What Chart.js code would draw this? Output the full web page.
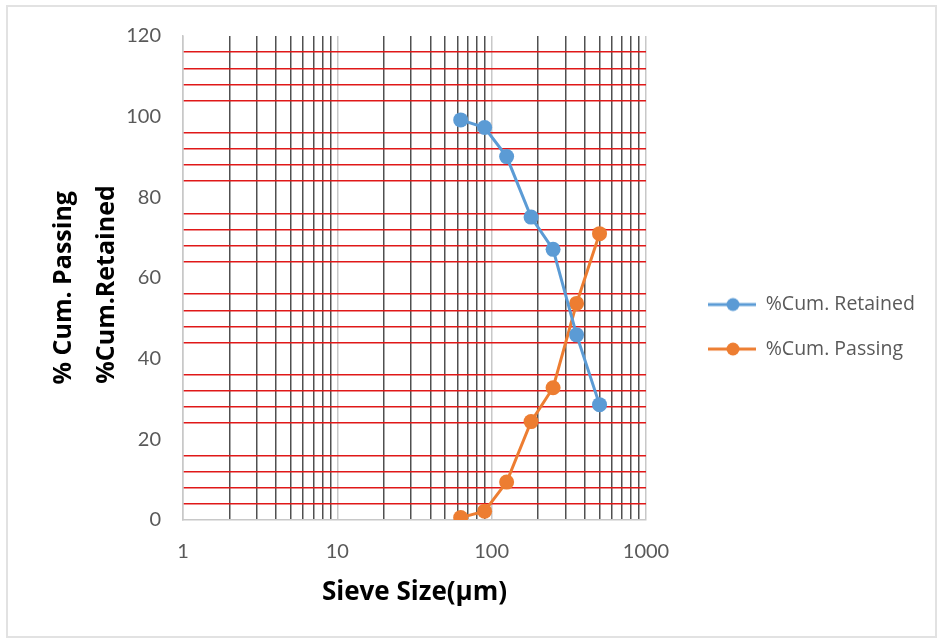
<!DOCTYPE html>
<html>
<head>
<title>Sieve Analysis</title>
<script src="https://cdn.jsdelivr.net/npm/chart.js"></script>
<style>
    body { margin: 0; background: #fff; }
    #wrap { position: relative; width: 941px; height: 640px; }
    #frame { position: absolute; left: 6px; top: 5px; width: 927px; height: 629px; border: 2px solid #e2e2e2; pointer-events: none; }
</style>
</head>
<body>
<div id="wrap">
    <canvas id="myChart" width="941" height="640"></canvas>
    <div id="frame"></div>
</div>
<script>
var sieveSizes = [63, 90, 125, 180, 250, 355, 500];
var cumRetained = [99.2, 97.3, 90.1, 75.1, 67.1, 45.9, 28.6];
var cumPassing = [0.6, 2.2, 9.4, 24.4, 32.8, 53.7, 71.0];

var xGridValues = [1, 2, 3, 4, 5, 6, 7, 8, 9, 10, 20, 30, 40, 50, 60, 70, 80, 90,
    100, 200, 300, 400, 500, 600, 700, 800, 900, 1000];
var xTickLabels = [1, 10, 100, 1000];
var yGridValues = [0, 4, 8, 12, 16, 20, 24, 28, 32, 36, 40, 44, 48, 52, 56, 60,
    64, 68, 72, 76, 80, 84, 88, 92, 96, 100, 104, 108, 112, 116, 120];
var yTickLabels = [0, 20, 40, 60, 80, 100, 120];

var blue = '#5B9BD5';
var orange = '#ED7D31';
var legendWidth = 248;

// little line + dot picture for the legend, like the excel one
function legendMarker(color) {
    var c = document.createElement('canvas');
    c.width = 48; c.height = 16;
    var g = c.getContext('2d');
    g.strokeStyle = color;
    g.lineWidth = 3;
    g.beginPath(); g.moveTo(0, 8); g.lineTo(48, 8); g.stroke();
    g.fillStyle = color;
    g.beginPath(); g.arc(25, 8, 6.5, 0, Math.PI * 2); g.fill();
    return c;
}
var markers = [legendMarker(blue), legendMarker(orange)];

function toPoints(ys) {
    return sieveSizes.map(function (s, i) { return {x: s, y: ys[i]}; });
}

// the legend is capped to a third of half the width otherwise, so force it
var legendWidthPlugin = {
    id: 'legendWidth',
    beforeLayout: function (chart) {
        var lg = chart.legend;
        if (lg && !lg._fixedWidth) {
            var fit = lg.fit;
            lg.fit = function () { fit.call(this); this.width = legendWidth; };
            lg._fixedWidth = true;
        }
    }
};

Chart.defaults.font.family = 'Lato';
Chart.defaults.color = '#595959';

var chart = new Chart(document.getElementById('myChart'), {
    type: 'line',
    data: {
        datasets: [{
            label: '%Cum. Retained',
            data: toPoints(cumRetained),
            borderColor: blue,
            backgroundColor: blue,
            borderWidth: 3,
            pointRadius: 7.5,
            pointBorderWidth: 0,
            tension: 0
        }, {
            label: '%Cum. Passing',
            data: toPoints(cumPassing),
            borderColor: orange,
            backgroundColor: orange,
            borderWidth: 3,
            pointRadius: 7.5,
            pointBorderWidth: 0,
            tension: 0
        }]
    },
    plugins: [legendWidthPlugin],
    options: {
        responsive: false,
        animation: false,
        layout: {
            padding: {left: 30, top: 36, right: 10, bottom: 32}
        },
        scales: {
            x: {
                type: 'logarithmic',
                min: 1,
                max: 1000,
                afterBuildTicks: function (scale) {
                    scale.ticks = xGridValues.map(function (v) { return {value: v}; });
                },
                afterFit: function (scale) { scale.height = 88; },
                ticks: {
                    autoSkip: false,
                    maxRotation: 0,
                    padding: 20,
                    font: {size: 20},
                    callback: function (v) {
                        return xTickLabels.indexOf(v) >= 0 ? String(v) : '';
                    }
                },
                grid: {
                    drawTicks: false,
                    lineWidth: 1.5,
                    color: function (ctx) {
                        var v = ctx.tick ? ctx.tick.value : 0;
                        return xTickLabels.indexOf(v) >= 0 ? '#c8c8c8' : '#505050';
                    }
                },
                border: {color: '#c8c8c8', width: 1.5},
                title: {
                    display: true,
                    text: 'Sieve Size(\u00b5m)',
                    color: '#000',
                    font: {family: 'Open Sans', size: 26, weight: 'bold', lineHeight: 1.2},
                    padding: {top: 14, bottom: 0}
                }
            },
            y: {
                min: 0,
                max: 120,
                afterBuildTicks: function (scale) {
                    scale.ticks = yGridValues.map(function (v) { return {value: v}; });
                },
                afterFit: function (scale) { scale.width = 153; },
                ticks: {
                    autoSkip: false,
                    padding: 22,
                    font: {size: 20},
                    callback: function (v) {
                        return yTickLabels.indexOf(v) >= 0 ? String(v) : '';
                    }
                },
                grid: {
                    drawTicks: false,
                    lineWidth: 1.5,
                    color: function (ctx) {
                        var v = ctx.tick ? ctx.tick.value : 0;
                        return (v % 20 === 0) ? 'rgba(0,0,0,0)' : '#e01818';
                    }
                },
                border: {color: '#c8c8c8', width: 1.5},
                title: {
                    display: true,
                    // trailing spaces push both lines to start at the same place
                    text: ['% Cum. Passing   ', '%Cum.Retained  '],
                    color: '#000',
                    font: {family: 'Open Sans', size: 25, weight: 'bold', lineHeight: 1.73},
                    padding: {top: 12, bottom: 0}
                }
            },
            // empty axis, only keeps a gap between plot and legend
            gap: {
                type: 'linear',
                position: 'right',
                display: true,
                grid: {display: false},
                border: {display: false},
                ticks: {display: false},
                afterFit: function (scale) { scale.width = 37; }
            }
        },
        plugins: {
            legend: {
                position: 'right',
                align: 'center',
                title: {display: true, text: '', font: {size: 8}, padding: 0},
                labels: {
                    usePointStyle: true,
                    pointStyleWidth: 48,
                    padding: 25,
                    color: '#595959',
                    font: {family: 'Open Sans', size: 19.5},
                    generateLabels: function (chart) {
                        var items = Chart.defaults.plugins.legend.labels.generateLabels(chart);
                        items.forEach(function (it) { it.pointStyle = markers[it.datasetIndex]; });
                        return items;
                    }
                }
            },
            tooltip: {enabled: false}
        }
    }
});
</script>
</body>
</html>
